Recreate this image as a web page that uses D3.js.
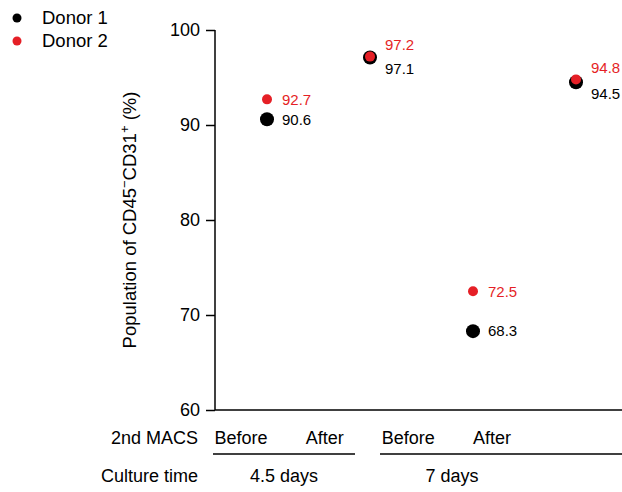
<!DOCTYPE html>
<html>
<head>
<meta charset="utf-8">
<script src="https://cdn.jsdelivr.net/npm/d3@7"></script>
<style>
  body { margin: 0; background: #fff; }
  svg { display: block; font-family: "Liberation Sans", Arial, sans-serif; }
</style>
</head>
<body>
<svg width="622" height="492"></svg>
<script>
// data
const conditions = ["4.5d Before", "4.5d After", "7d Before", "7d After"];
const macsLabels = ["Before", "After", "Before", "After"];
const cultureGroups = ["4.5 days", "7 days"];
const donor1 = [90.6, 97.1, 68.3, 94.5];
const donor2 = [92.7, 97.2, 72.5, 94.8];
const yTicks = [60, 70, 80, 90, 100];

const RED = "#e51f26";

const svg = d3.select("svg");

const x = d3.scalePoint().domain(conditions).range([267, 576]);
const y = d3.scaleLinear().domain([60, 100]).range([410, 30]);
// bottom table columns don't sit under the dots, they have their own spacing
const xLab = d3.scalePoint().domain(conditions).range([241, 492]);
const xGroup = d3.scalePoint().domain(cultureGroups).range([284, 452]);

// y axis
const yAxis = svg.append("g")
  .attr("transform", "translate(215,0)")
  .call(d3.axisLeft(y).tickValues(yTicks).tickSize(9).tickPadding(6));
yAxis.select(".domain").remove();
yAxis.selectAll(".tick line").attr("stroke", "#000").attr("stroke-width", 1.5);
yAxis.selectAll(".tick text").attr("font-size", 18).attr("fill", "#000")
  .attr("font-family", "Liberation Sans, Arial, sans-serif");

// axis lines (L shape)
svg.append("line").attr("x1", 215).attr("x2", 215).attr("y1", y(100)).attr("y2", y(60))
  .attr("stroke", "#000").attr("stroke-width", 1.5);
svg.append("line").attr("x1", 215).attr("x2", 622).attr("y1", y(60)).attr("y2", y(60))
  .attr("stroke", "#000").attr("stroke-width", 1.5);

// y label with superscripts
const yl = svg.append("text")
  .attr("transform", `translate(136,${(y(100) + y(60)) / 2}) rotate(-90)`)
  .attr("text-anchor", "middle")
  .attr("font-size", 18.5);
yl.append("tspan").text("Population of CD45");
yl.append("tspan").text("−").attr("baseline-shift", "super").attr("font-size", 13);
yl.append("tspan").text("CD31");
yl.append("tspan").text("+").attr("baseline-shift", "super").attr("font-size", 13);
yl.append("tspan").text(" (%)");

// dots - donor 1 black first, donor 2 red on top
svg.selectAll("circle.d1").data(donor1).join("circle")
  .attr("class", "d1")
  .attr("cx", (d, i) => x(conditions[i]))
  .attr("cy", d => y(d))
  .attr("r", 7)
  .attr("fill", "#000");

svg.selectAll("circle.d2").data(donor2).join("circle")
  .attr("class", "d2")
  .attr("cx", (d, i) => x(conditions[i]))
  .attr("cy", d => y(d))
  .attr("r", 5)
  .attr("fill", RED);

// value labels; when the dots overlap, red goes above and black below
const overlap = donor1.map((d, i) => Math.abs(donor2[i] - d) < 1);

svg.selectAll("text.v1").data(donor1).join("text")
  .attr("class", "v1")
  .attr("x", (d, i) => x(conditions[i]) + 15)
  .attr("y", (d, i) => y(d) + (overlap[i] ? 11 : 0))
  .attr("dy", "0.35em")
  .attr("font-size", 15)
  .attr("fill", "#000")
  .text(d => d.toFixed(1));

svg.selectAll("text.v2").data(donor2).join("text")
  .attr("class", "v2")
  .attr("x", (d, i) => x(conditions[i]) + 15)
  .attr("y", (d, i) => y(d) - (overlap[i] ? 12 : 0))
  .attr("dy", "0.35em")
  .attr("font-size", 15)
  .attr("fill", RED)
  .text(d => d.toFixed(1));

// bottom table
svg.append("text").attr("x", 198).attr("y", 438).attr("dy", "0.35em")
  .attr("text-anchor", "end").attr("font-size", 18).text("2nd MACS");
svg.append("text").attr("x", 198).attr("y", 476).attr("dy", "0.35em")
  .attr("text-anchor", "end").attr("font-size", 18).text("Culture time");

svg.selectAll("text.macs").data(macsLabels).join("text")
  .attr("class", "macs")
  .attr("x", (d, i) => xLab(conditions[i]))
  .attr("y", 438).attr("dy", "0.35em")
  .attr("text-anchor", "middle").attr("font-size", 18)
  .text(d => d);

const groupSpan = [[213, 355], [380, 640]];
svg.selectAll("line.grp").data(cultureGroups).join("line")
  .attr("class", "grp")
  .attr("x1", (d, i) => groupSpan[i][0])
  .attr("x2", (d, i) => groupSpan[i][1])
  .attr("y1", 454).attr("y2", 454)
  .attr("stroke", "#000").attr("stroke-width", 1.5);

svg.selectAll("text.grp").data(cultureGroups).join("text")
  .attr("class", "grp")
  .attr("x", d => xGroup(d))
  .attr("y", 476).attr("dy", "0.35em")
  .attr("text-anchor", "middle").attr("font-size", 18)
  .text(d => d);

// legend
const legend = [["Donor 1", "#000"], ["Donor 2", RED]];
const lg = svg.selectAll("g.lg").data(legend).join("g")
  .attr("class", "lg")
  .attr("transform", (d, i) => `translate(17,${18 + i * 23})`);
lg.append("circle").attr("r", 4.5).attr("fill", d => d[1]);
lg.append("text").attr("x", 25).attr("dy", "0.35em").attr("font-size", 18.5).text(d => d[0]);
</script>
</body>
</html>
